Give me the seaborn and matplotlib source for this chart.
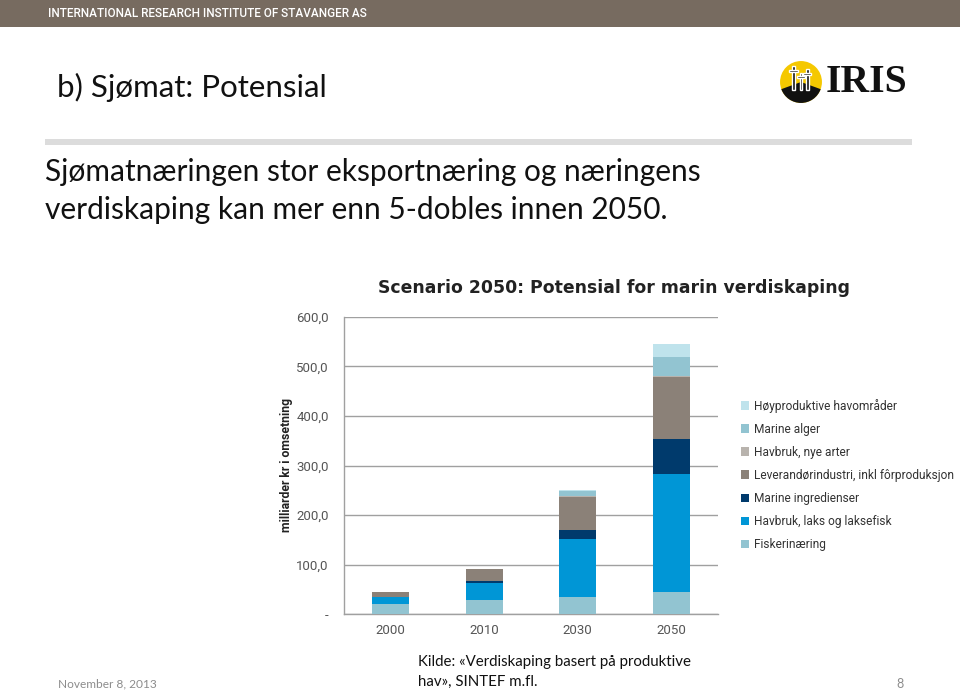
import matplotlib
matplotlib.use("Agg")
import matplotlib.pyplot as plt
import matplotlib.patches as mpatches
import numpy as np
import pandas as pd
import seaborn as sns

# ---------------- data ----------------
years = ["2000", "2010", "2030", "2050"]
fiskeri = [21.0, 27.5, 33.5, 45.0]
laks = [13.0, 35.0, 119.0, 237.0]
ingredienser = [0.5, 4.5, 17.5, 72.0]
leverandor = [9.5, 23.5, 67.0, 124.0]
nye_arter = [0.0, 0.0, 1.0, 2.0]
alger = [0.0, 0.0, 11.0, 40.0]
hoyproduktive = [0.0, 0.0, 2.0, 25.0]

series_names = [
    "Fiskerinæring",
    "Havbruk, laks og laksefisk",
    "Marine ingredienser",
    "Leverandørindustri, inkl fôrproduksjon",
    "Havbruk, nye arter",
    "Marine alger",
    "Høyproduktive havområder",
]
series_values = [fiskeri, laks, ingredienser, leverandor, nye_arter, alger, hoyproduktive]
series_colors = ["#92c4d1", "#0096d6", "#003a6c", "#8b8178", "#b8b3ad", "#92c4d1", "#bfe3ec"]

yticks = [0, 100, 200, 300, 400, 500, 600]
ytick_labels = ["-", "100,0", "200,0", "300,0", "400,0", "500,0", "600,0"]

W, H = 960, 692
sns.set_theme(style="white")
plt.rcParams["font.family"] = ["Lato", "DejaVu Sans"]

fig = plt.figure(figsize=(W / 100, H / 100), dpi=100)
fig.patch.set_facecolor("white")

def fx(x):
    return x / W

def fy(y):
    return 1 - y / H

# ---------------- banner ----------------
fig.patches.append(mpatches.Rectangle((0, fy(27)), 1, 27 / H, transform=fig.transFigure,
                                      facecolor="#776b60", edgecolor="none", zorder=0))
fig.text(fx(48), fy(13.5), "INTERNATIONAL RESEARCH INSTITUTE OF STAVANGER AS", color="white",
         fontsize=8.5, va="center", ha="left", family=["Roboto", "DejaVu Sans"], fontweight="medium")

# title
fig.text(fx(57), fy(87), "b) Sjømat: Potensial", fontsize=22.5, color="#111111", va="center", ha="left")
# separator line
fig.patches.append(mpatches.Rectangle((fx(45), fy(145)), (912 - 45) / W, 6 / H, transform=fig.transFigure,
                                      facecolor="#dcdcdc", edgecolor="none"))
fig.text(fx(45), fy(172), "Sjømatnæringen stor eksportnæring og næringens", fontsize=21.5,
         color="#111111", va="center", ha="left")
fig.text(fx(45), fy(210), "verdiskaping kan mer enn 5-dobles innen 2050.", fontsize=21.5,
         color="#111111", va="center", ha="left")

# ---------------- logo ----------------
lax = fig.add_axes([fx(779), fy(104), 44 / W, 44 / H])
lax.set_xlim(-1.05, 1.05)
lax.set_ylim(-1.05, 1.05)
lax.set_aspect("equal")
lax.axis("off")
lax.add_patch(mpatches.Circle((0, 0), 1.0, facecolor="#f5c800", edgecolor="none"))
lax.add_patch(mpatches.Wedge((0, 0), 1.0, 200, 340, facecolor="#111111", edgecolor="none"))
for xc, top in [(-0.35, 0.75), (0.0, 0.45), (0.3, 0.6)]:
    lax.add_patch(mpatches.Rectangle((xc - 0.07, -0.4), 0.14, top + 0.4, facecolor="#111111"))
    lax.add_patch(mpatches.Rectangle((xc - 0.2, top - 0.25), 0.4, 0.08, facecolor="#111111"))
fig.text(fx(826), fy(83), "IRIS", fontsize=28.5, fontweight="bold", color="#111111",
         family=["Liberation Serif", "DejaVu Serif"], va="center", ha="left")

# ---------------- chart ----------------
ax = fig.add_axes([fx(344), fy(614), (718 - 344) / W, (614 - 317) / H])

cum = np.zeros(len(years))
cums = []
for vals in series_values:
    cum = cum + np.array(vals)
    cums.append(cum.copy())

# draw from the tallest cumulative layer down so each lower layer covers the upper part
for name, c, color in reversed(list(zip(series_names, cums, series_colors))):
    d = pd.DataFrame({"year": years, "value": c})
    sns.barplot(data=d, x="year", y="value", color=color, width=0.4, ax=ax,
                saturation=1, zorder=3, linewidth=0)

ax.set_ylim(0, 600)
ax.set_xlim(-0.5, 3.5)
ax.set_yticks(yticks)
ax.set_yticklabels(ytick_labels)
ax.yaxis.grid(True, color="#a0a0a0", linewidth=1.0, zorder=0)
ax.xaxis.grid(False)
ax.set_axisbelow(True)
for s in ["top", "right"]:
    ax.spines[s].set_visible(False)
for s in ["left", "bottom"]:
    ax.spines[s].set_color("#a0a0a0")
    ax.spines[s].set_linewidth(1.0)
ax.tick_params(axis="y", length=0, pad=11, labelsize=9.5, labelcolor="#555555")
ax.tick_params(axis="x", which="major", length=0, pad=7, labelsize=9.5, labelcolor="#555555")
ax.set_xticks([-0.5, 0.5, 1.5, 2.5, 3.5], minor=True)
ax.tick_params(axis="x", which="minor", length=4, color="#a0a0a0", direction="out")
for lab in ax.get_xticklabels() + ax.get_yticklabels():
    lab.set_family(["Roboto", "DejaVu Sans"])
ax.set_xlabel("")
ax.set_ylabel("milliarder kr i omsetning", fontsize=8.8, fontweight="bold", color="#222222",
              family=["Roboto", "DejaVu Sans"])
ax.yaxis.set_label_coords((293 - 344) / (718 - 344), 0.5)

fig.text(fx(378), fy(288), "Scenario 2050: Potensial for marin verdiskaping", fontsize=12.4,
         fontweight="bold", color="#222222", family=["DejaVu Sans"],
         va="center", ha="left")

# legend
handles = [mpatches.Patch(facecolor=c, edgecolor="none", label=n)
           for n, c in reversed(list(zip(series_names, series_colors)))]
leg = fig.legend(handles=handles, loc="upper left", bbox_to_anchor=(fx(730), fy(388)),
                 frameon=False, handlelength=0.7, handleheight=0.7, handletextpad=0.4,
                 labelspacing=0.84, prop={"family": ["Roboto", "DejaVu Sans"], "size": 8.6})
for t in leg.get_texts():
    t.set_color("#333333")

# footer
fig.text(fx(58), fy(684), "November 8, 2013", fontsize=8.6, color="#8c8c8c", va="center", ha="left")
fig.text(fx(418), fy(662), "Kilde: «Verdiskaping basert på produktive", fontsize=10.8,
         color="#111111", va="center", ha="left")
fig.text(fx(418), fy(682), "hav», SINTEF m.fl.", fontsize=10.8, color="#111111", va="center", ha="left")
fig.text(fx(900), fy(684), "8", fontsize=9, color="#8c8c8c", va="center", ha="center")

fig.savefig("out.png", dpi=100)
